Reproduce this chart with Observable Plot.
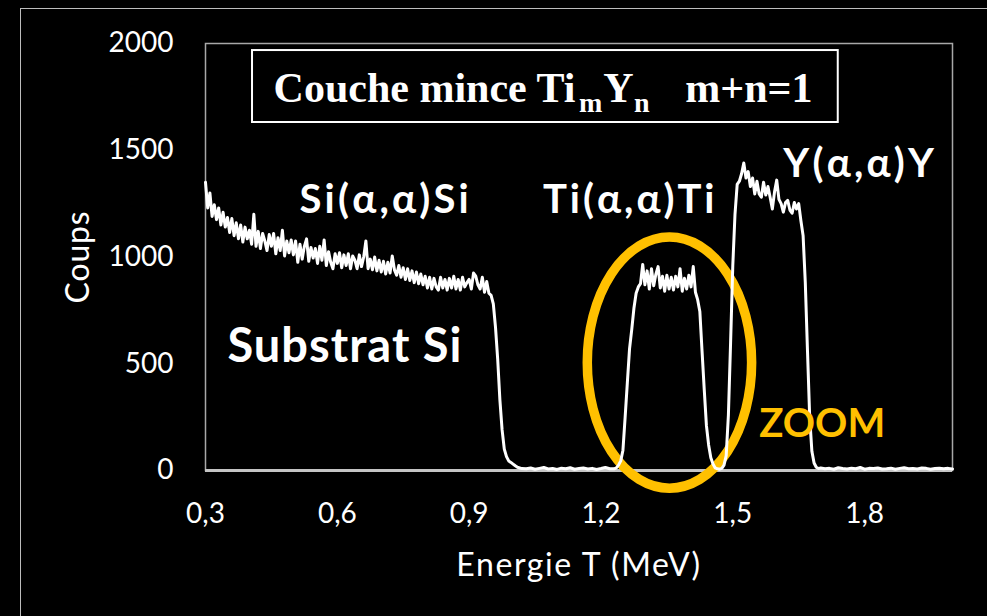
<!DOCTYPE html>
<html>
<head>
<meta charset="utf-8">
<script src="https://cdn.jsdelivr.net/npm/d3@7"></script>
<script src="https://cdn.jsdelivr.net/npm/@observablehq/plot@0.6"></script>
<style>
html, body { margin: 0; padding: 0; background: #000; }
#wrap { position: relative; width: 987px; height: 616px; overflow: hidden; background: #000; }
#outer { position: absolute; left: 20px; top: 8px; width: 1000px; height: 700px;
  border-left: 1.5px solid #bdbdbd; border-top: 1.5px solid #bdbdbd; pointer-events: none; }
svg { display: block; }
</style>
</head>
<body>
<div id="wrap"><div id="outer"></div></div>
<script>
// ---- Data ----
const energieSubstrat = [
  0.300,0.305,0.310,0.315,0.320,0.325,0.330,0.335,0.340,0.345,
  0.350,0.355,0.360,0.365,0.370,0.375,0.380,0.385,0.390,0.395,
  0.400,0.405,0.410,0.415,0.420,0.425,0.430,0.435,0.440,0.445,
  0.450,0.455,0.460,0.465,0.470,0.475,0.480,0.485,0.490,0.495,
  0.500,0.505,0.510,0.515,0.520,0.525,0.530,0.535,0.540,0.545,
  0.550,0.555,0.560,0.565,0.570,0.575,0.580,0.585,0.590,0.595,
  0.600,0.605,0.610,0.615,0.620,0.625,0.630,0.635,0.640,0.645,
  0.650,0.655,0.660,0.665,0.670,0.675,0.680,0.685,0.690,0.695,
  0.700,0.705,0.710,0.715,0.720,0.725,0.730,0.735,0.740,0.745,
  0.750,0.755,0.760,0.765,0.770,0.775,0.780,0.785,0.790,0.795,
  0.800,0.805,0.810,0.815,0.820,0.825,0.830,0.835,0.840,0.845,
  0.850,0.855,0.860,0.865,0.870,0.875,0.880,0.885,0.890,0.895,
  0.900,0.905,0.910,0.915,0.920,0.925,0.930,0.935,0.940,0.945
];
const coupsSubstrat = [
  1350,1230,1300,1190,1245,1175,1230,1150,1210,1140,
  1185,1115,1180,1100,1160,1085,1150,1070,1140,1085,
  1125,1060,1200,1050,1120,1040,1110,1075,1030,1105,
  1050,1110,1015,1090,1030,1125,1005,1075,1020,1080,
  1010,1075, 975,1060, 990,1050,1085, 980,1045, 995,
  1040, 970,1050, 985,1080, 960,1025, 975, 945,1015,
   970,1020, 950,1010, 960,1015, 945,1005, 985, 945,
  1010, 955,1000,1075, 945, 990, 940,1000, 935, 985,
   930, 980, 920, 975, 925,1005, 940, 915, 960, 905,
   950, 895, 945, 890, 935, 880, 930, 875, 920, 870,
   910, 855, 905, 850, 900, 860, 845, 905, 855, 895,
   845, 900, 855, 910, 850, 895, 845, 905, 860, 880,
   895, 850, 925, 910, 870, 850, 905, 835, 885, 830
];
const energieBordSi = [0.950,0.955,0.960,0.965,0.970,0.975,0.980,0.985,0.990,0.995,1.000,1.005,1.010,1.015,1.020];
const coupsBordSi   = [820, 780, 670, 520, 330, 190, 100, 65, 45, 38, 30, 22, 15, 12, 9];

const energieFond1 = [1.03,1.04,1.05,1.06,1.07,1.08,1.09,1.10,1.11,1.12,1.13,1.14,1.15,1.16,1.17,1.18,1.19,1.20,1.21,1.22];
const coupsFond1   = [8, 12, 6, 10, 14, 7, 9, 5, 11, 8, 13, 6, 9, 12, 7, 10, 5, 9, 14, 8];

const energieTi = [
  1.230,1.235,1.240,1.245,1.250,1.255,1.260,1.265,1.270,1.275,
  1.280,1.285,1.290,1.295,1.300,1.305,1.310,1.315,1.320,1.325,
  1.330,1.335,1.340,1.345,1.350,1.355,1.360,1.365,1.370,1.375,
  1.380,1.385,1.390,1.395,1.400,1.405,1.410,1.415,1.420,1.425,
  1.430,1.435,1.440,1.445,1.450,1.455,1.460,1.465
];
const coupsTi = [
    8,  12,  25,  45,  95, 250, 410, 570, 660, 760,
  830, 860, 875, 965, 870, 935, 850, 945, 865, 920,
  955, 855, 910, 840, 915, 850, 905, 845, 910, 860,
  945, 840, 900, 850, 915, 860, 955, 835, 800, 745,
  560, 380, 210, 120,  60,  30,  12,   8
];

const energieY = [
  1.470,1.475,1.480,1.485,1.490,1.495,1.500,1.505,1.510,1.515,
  1.520,1.525,1.530,1.535,1.540,1.545,1.550,1.555,1.560,1.565,
  1.570,1.575,1.580,1.585,1.590,1.595,1.600,1.605,1.610,1.615,
  1.620,1.625,1.630,1.635,1.640,1.645,1.650,1.655,1.660,1.665,
  1.670,1.675,1.680,1.685,1.690,1.695
];
const coupsY = [
     6,  10,  25,  70, 260, 600, 960,1200,1340,1355,
  1390,1440,1370,1400,1330,1370,1295,1355,1295,1280,
  1350,1290,1330,1280,1225,1305,1360,1270,1250,1210,
  1255,1265,1220,1205,1255,1225,1250,1170,1100, 880,
   560, 250,  90,  35,  15,   9
];

const energieFond2 = [1.70,1.71,1.72,1.73,1.74,1.75,1.76,1.77,1.78,1.79,1.80,1.81,1.82,1.83,1.84,1.85,1.86,1.87,1.88,1.89,1.90,1.91,1.92,1.93,1.94,1.95,1.96,1.97,1.98,1.99,2.00];
const coupsFond2   = [12, 8, 10, 6, 13, 9, 7, 11, 8, 14, 6, 10, 9, 12, 7, 8, 11, 6, 10, 13, 8, 9, 7, 12, 10, 6, 9, 11, 8, 10, 7];

const xTicks = [0.3, 0.6, 0.9, 1.2, 1.5, 1.8];
const yTicks = [0, 500, 1000, 1500, 2000];

// ---- Build table ----
const segments = [
  [energieSubstrat, coupsSubstrat],
  [energieBordSi, coupsBordSi],
  [energieFond1, coupsFond1],
  [energieTi, coupsTi],
  [energieY, coupsY],
  [energieFond2, coupsFond2]
];
const spectre = segments.flatMap(([E, C]) =>
  E.slice(0, Math.min(E.length, C.length)).map((e, i) => ({energie: e, coups: C[i]})));

const fmtX = d => d.toFixed(1).replace(".", ",");
const ORANGE = "#FFC000";
const SANS = "Lato, 'Open Sans', sans-serif";
const SERIF = "'Liberation Serif', 'DejaVu Serif', serif";

// ellipse highlighting the Ti peak (annotation, in data units)
const ellipseZoom = (index, scales) => {
  const {x, y} = scales;
  const cx = x(1.357), cy = y(503);
  const rx = x(1.357 + 0.187) - cx;
  const ry = y(503) - y(503 + 588);
  const el = document.createElementNS("http://www.w3.org/2000/svg", "ellipse");
  el.setAttribute("cx", cx); el.setAttribute("cy", cy);
  el.setAttribute("rx", rx); el.setAttribute("ry", ry);
  el.setAttribute("fill", "none");
  el.setAttribute("stroke", ORANGE);
  el.setAttribute("stroke-width", 9.5);
  return el;
};

const chart = Plot.plot({
  width: 987,
  height: 616,
  marginLeft: 205,
  marginRight: 35,
  marginTop: 43,
  marginBottom: 146,
  x: {domain: [0.3, 2.0]},
  y: {domain: [0, 2000]},
  style: {background: "#000", color: "white", fontFamily: SANS, fontSize: "28px"},
  marks: [
    Plot.frame({stroke: "#a8a8a8", strokeWidth: 1.5}),
    Plot.ruleY([0], {stroke: "#c4c4c4", strokeWidth: 3}),
    Plot.rect([{x1: 0.407, x2: 1.740, y1: 1630, y2: 1967}],
      {x1: "x1", x2: "x2", y1: "y1", y2: "y2", fill: "black", stroke: "white", strokeWidth: 2}),
    ellipseZoom,
    Plot.line(spectre, {x: "energie", y: "coups", stroke: "white", strokeWidth: 3, strokeLinejoin: "round"}),
    // title pieces
    Plot.text([{t: "Couche mince Ti", e: 0.455, c: 1791}], {x: "e", y: "c", text: "t", textAnchor: "start",
      fontFamily: SERIF, fontWeight: "bold", fontSize: 42, fill: "white"}),
    Plot.text([{t: "m", e: 1.150, c: 1719}, {t: "n", e: 1.275, c: 1719}], {x: "e", y: "c", text: "t", textAnchor: "start",
      fontFamily: SERIF, fontWeight: "bold", fontSize: 28, fill: "white"}),
    Plot.text([{t: "Y", e: 1.205, c: 1791}, {t: "m+n=1", e: 1.392, c: 1791}], {x: "e", y: "c", text: "t", textAnchor: "start",
      fontFamily: SERIF, fontWeight: "bold", fontSize: 42, fill: "white"}),
    // reaction labels
    Plot.text([
      {t: "Si(α,α)Si", e: 0.514, c: 1265},
      {t: "Ti(α,α)Ti", e: 1.068, c: 1265},
      {t: "Y(α,α)Y", e: 1.615, c: 1433}
    ], {x: "e", y: "c", text: "t", textAnchor: "start", fontWeight: "bold", fontSize: 40, fill: "white"}),
    Plot.text([{t: "Substrat Si", e: 0.350, c: 581}], {x: "e", y: "c", text: "t", textAnchor: "start",
      fontWeight: "bold", fontSize: 47, fill: "white"}),
    Plot.text([{t: "ZOOM", e: 1.560, c: 215}], {x: "e", y: "c", text: "t", textAnchor: "start",
      fontWeight: "bold", fontSize: 40, fill: ORANGE}),
    // axes
    Plot.axisX({ticks: xTicks, tickSize: 0, tickPadding: 33, tickFormat: fmtX, fontSize: 28, label: null, fill: "white"}),
    Plot.axisY({ticks: yTicks, tickSize: 0, tickPadding: 32, tickFormat: d => String(d), fontSize: 28, label: null, fill: "white"}),
    Plot.text(["Energie T (MeV)"], {frameAnchor: "bottom", lineAnchor: "middle", textAnchor: "middle", dy: 95, fontSize: 32, fill: "white"}),
    Plot.text(["Coups"], {frameAnchor: "left", lineAnchor: "middle", textAnchor: "middle", dx: -127, rotate: -90, fontSize: 32, fill: "white"})
  ]
});

// slightly wider letter spacing to match the reference typeface widths
const spacing = {"Si(α,α)Si": 3.2, "Ti(α,α)Ti": 3.0, "Y(α,α)Y": 3.2, "Substrat Si": 1.0, "Energie T (MeV)": 1.6, "Coups": 0.8};
d3.select(chart).selectAll("text").each(function() {
  const s = spacing[this.textContent];
  if (s) this.setAttribute("letter-spacing", s);
});

document.getElementById("wrap").insertBefore(chart, document.getElementById("outer"));
</script>
</body>
</html>
